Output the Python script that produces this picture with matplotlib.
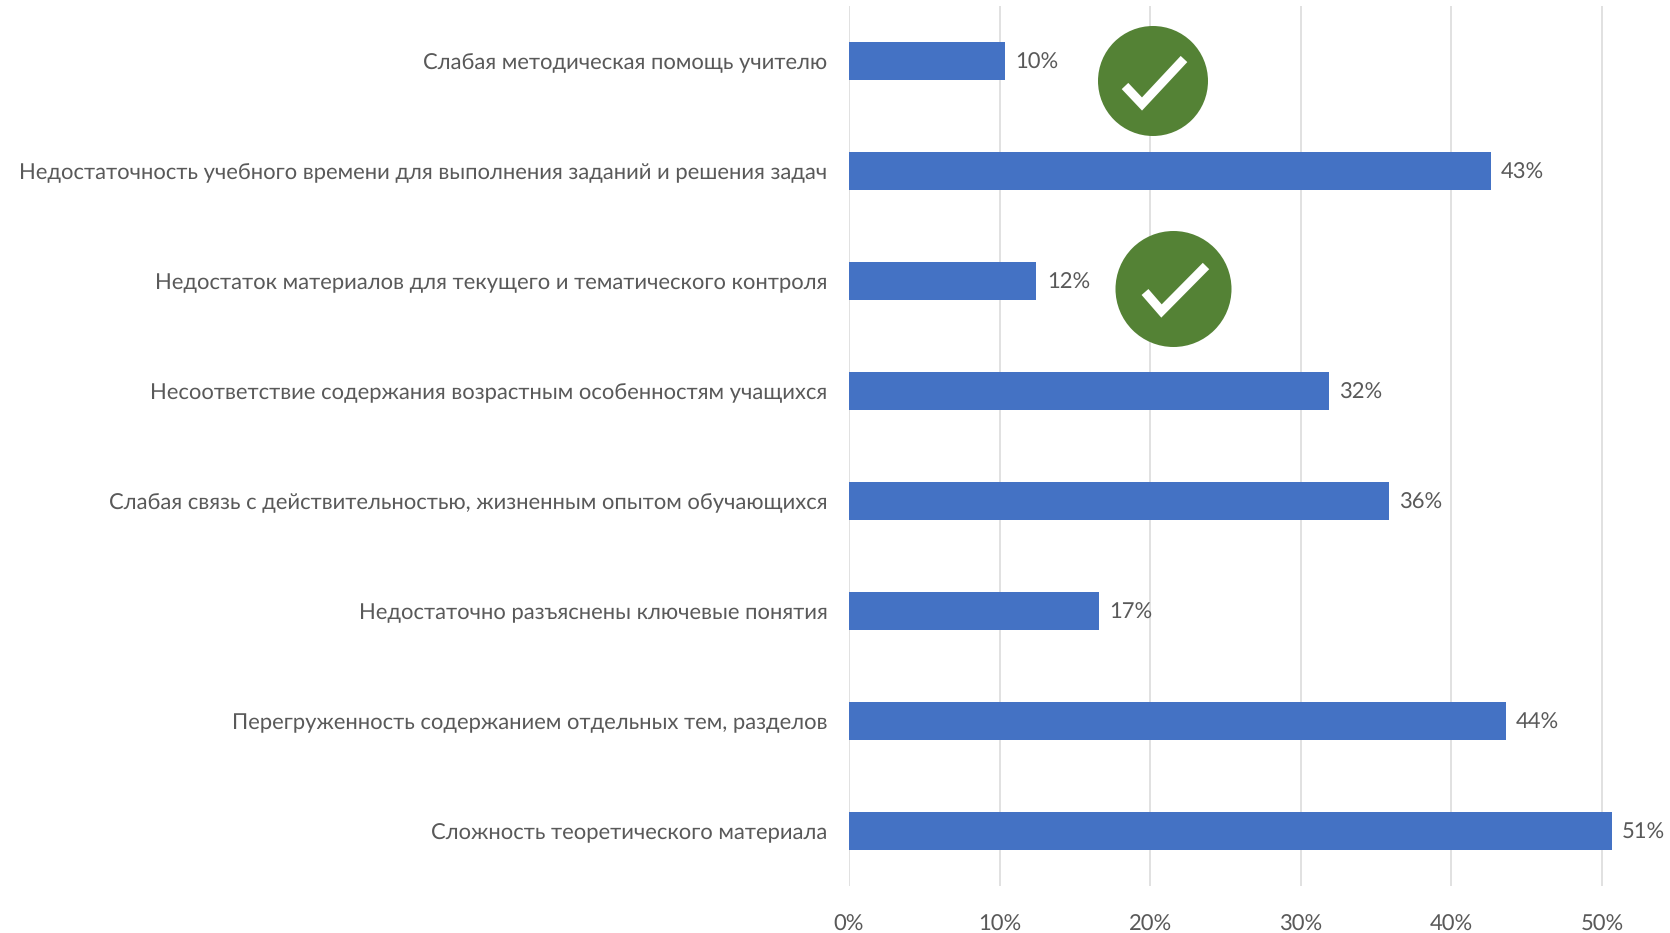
import matplotlib
matplotlib.use("Agg")
import matplotlib.pyplot as plt
from matplotlib.patches import Ellipse

categories = [
    "Сложность теоретического материала",
    "Перегруженность содержанием отдельных тем, разделов",
    "Недостаточно разъяснены ключевые понятия",
    "Слабая связь с действительностью, жизненным опытом обучающихся",
    "Несоответствие содержания возрастным особенностям учащихся",
    "Недостаток материалов для текущего и тематического контроля",
    "Недостаточность учебного времени для выполнения заданий и решения задач",
    "Слабая методическая помощь учителю",
]
values = [50.65, 43.6, 16.6, 35.85, 31.85, 12.45, 42.6, 10.35]
x_ticks = [0, 10, 20, 30, 40, 50]

W, H = 1670, 933
plt.rcParams['font.family'] = ['Lato', 'Noto Sans', 'DejaVu Sans']
plt.rcParams['text.hinting'] = 'no_hinting'
plt.rcParams['text.hinting_factor'] = 1
TXT = '#595959'
FS = 16.0

fig = plt.figure(figsize=(W / 100, H / 100), dpi=100, facecolor='white')
L, R, T, B = 849, 1670, 6, 886
ax = fig.add_axes([L / W, 1 - B / H, (R - L) / W, (B - T) / H])
ax.barh(range(len(values)), values, height=0.35, color='#4472C4', zorder=3)
ax.set_ylim(-0.5, len(values) - 0.5)
ax.set_xlim(0, (R - L) / 15.06)
ax.set_xticks(x_ticks)
ax.set_xticklabels([f"{t}%" for t in x_ticks], fontsize=FS, color=TXT)
ax.set_yticks(range(len(categories)))
ax.set_yticklabels(categories, fontsize=FS, color=TXT)
ax.tick_params(axis='both', length=0)
ax.tick_params(axis='y', pad=15.5)
ax.tick_params(axis='x', pad=20.5)
ax.grid(axis='x', color='#D9D9D9', linewidth=1.1, zorder=0)
ax.set_axisbelow(True)
for s in ax.spines.values():
    s.set_visible(False)
for i, v in enumerate(values):
    ax.annotate(f"{round(v)}%", (v, i), xytext=(7.4, -1.2), textcoords='offset points',
                va='center', ha='left', fontsize=FS, color=TXT, zorder=4, annotation_clip=False)

# Overlay in image pixels for the two decorative check badges
ov = fig.add_axes([0, 0, 1, 1], facecolor='none')
ov.set_xlim(0, W)
ov.set_ylim(H, 0)
ov.axis('off')
for cx, cy, d, chk in [
    (1153, 81, 110, [(1125, 86), (1142, 104), (1184, 59)]),
    (1173.5, 289, 116, [(1145, 292), (1161.5, 311), (1206, 266)]),
]:
    ov.add_patch(Ellipse((cx, cy), d, d, color='#548235', lw=0))
    ov.plot([p[0] for p in chk], [p[1] for p in chk], color='white', lw=6.5,
            solid_joinstyle='miter', solid_capstyle='butt')

fig.savefig('out.png', dpi=100)
